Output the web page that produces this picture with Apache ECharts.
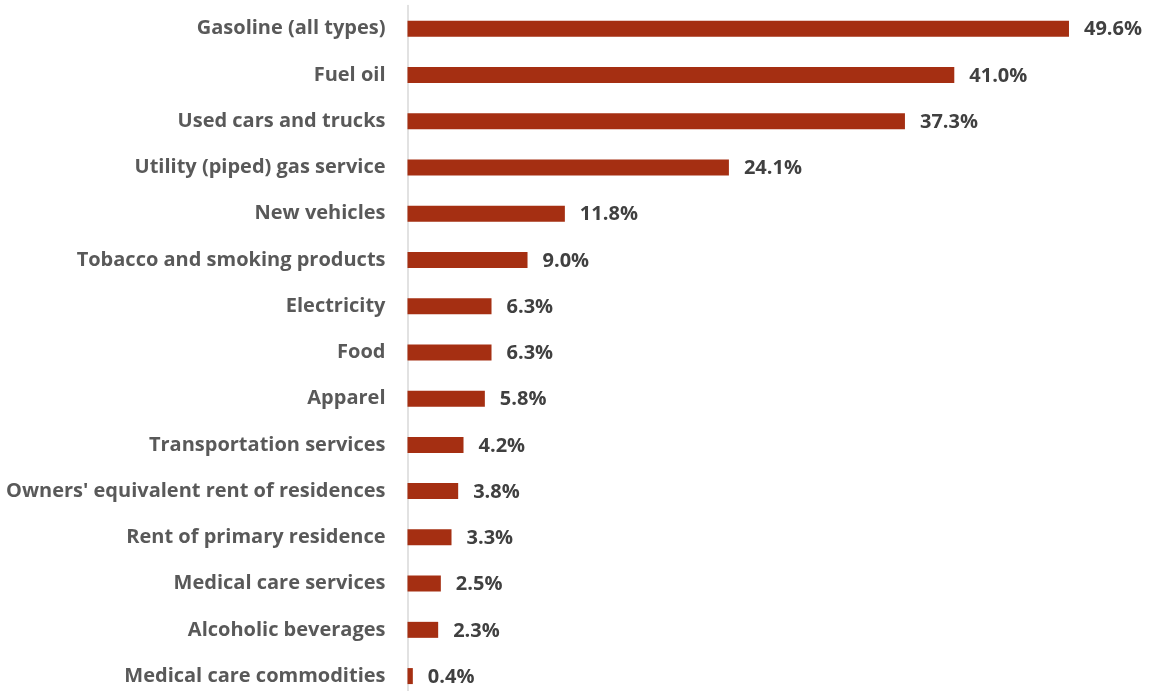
<!DOCTYPE html>
<html>
<head>
<meta charset="utf-8">
<script src="https://cdn.jsdelivr.net/npm/echarts@6/dist/echarts.min.js"></script>
<style>
  html, body { margin: 0; padding: 0; background: #ffffff; }
  #chart { width: 1149px; height: 691px; }
</style>
</head>
<body>
<div id="chart"></div>
<script>
// Year-over-year price change by CPI item (percent)
const categories = [
  "Gasoline (all types)",
  "Fuel oil",
  "Used cars and trucks",
  "Utility (piped) gas service",
  "New vehicles",
  "Tobacco and smoking products",
  "Electricity",
  "Food",
  "Apparel",
  "Transportation services",
  "Owners' equivalent rent of residences",
  "Rent of primary residence",
  "Medical care services",
  "Alcoholic beverages",
  "Medical care commodities"
];
const values = [49.6, 41.0, 37.3, 24.1, 11.8, 9.0, 6.3, 6.3, 5.8, 4.2, 3.8, 3.3, 2.5, 2.3, 0.4];

const chart = echarts.init(document.getElementById('chart'), null, { renderer: 'canvas' });

const FONT = '"Open Sans", sans-serif';

chart.setOption({
  animation: false,
  backgroundColor: '#ffffff',
  grid: {
    left: 407.5, right: 8, top: 5.6, height: 693.6,
    containLabel: false,
    outerBoundsMode: 'none'
  },
  xAxis: {
    type: 'value',
    min: 0,
    max: 55,
    show: false
  },
  yAxis: {
    type: 'category',
    inverse: true,
    data: categories,
    axisLine: { show: true, lineStyle: { color: '#d9d9d9', width: 1.5 } },
    axisTick: { show: false },
    axisLabel: {
      margin: 22,
      color: '#595959',
      fontFamily: FONT,
      fontWeight: 'bold',
      fontSize: 20
    }
  },
  series: [{
    type: 'bar',
    data: values,
    barWidth: 16,
    itemStyle: { color: '#a52f12' },
    label: {
      show: true,
      position: 'right',
      distance: 15,
      offset: [0, 1],
      color: '#404040',
      fontFamily: FONT,
      fontWeight: 'bold',
      fontSize: 20,
      formatter: p => p.value.toFixed(1) + '%'
    }
  }]
});
</script>
</body>
</html>
